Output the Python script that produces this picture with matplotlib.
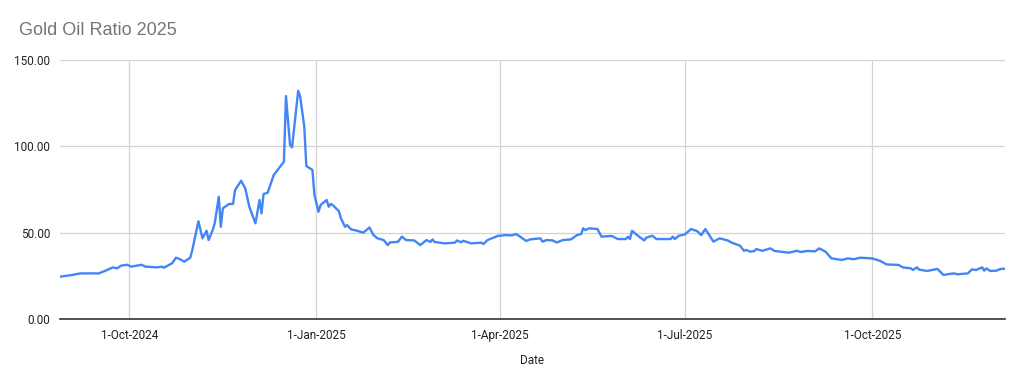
import matplotlib.pyplot as plt
import matplotlib.dates as mdates
import pandas as pd

plt.rcParams['font.family'] = ['Roboto', 'DejaVu Sans']

# Gold / oil ratio
dates = [
    '2024-08-28', '2024-09-03', '2024-09-07', '2024-09-16', '2024-09-19', '2024-09-23',
    '2024-09-25', '2024-09-27', '2024-09-30', '2024-10-02', '2024-10-07', '2024-10-09',
    '2024-10-15', '2024-10-17', '2024-10-18', '2024-10-22', '2024-10-24', '2024-10-26',
    '2024-10-28', '2024-10-31', '2024-11-01', '2024-11-04', '2024-11-06', '2024-11-08',
    '2024-11-09', '2024-11-11', '2024-11-12', '2024-11-14', '2024-11-15', '2024-11-16',
    '2024-11-19', '2024-11-21', '2024-11-22', '2024-11-25', '2024-11-27', '2024-11-29',
    '2024-12-02', '2024-12-04', '2024-12-05', '2024-12-06', '2024-12-08', '2024-12-11',
    '2024-12-16', '2024-12-17', '2024-12-19', '2024-12-20', '2024-12-23', '2024-12-24',
    '2024-12-26', '2024-12-27', '2024-12-30', '2024-12-31', '2025-01-02', '2025-01-03',
    '2025-01-06', '2025-01-07', '2025-01-08', '2025-01-09', '2025-01-12', '2025-01-13',
    '2025-01-15', '2025-01-16', '2025-01-18', '2025-01-21', '2025-01-24', '2025-01-27',
    '2025-01-29', '2025-01-31', '2025-02-03', '2025-02-05', '2025-02-06', '2025-02-10',
    '2025-02-12', '2025-02-14', '2025-02-18', '2025-02-21', '2025-02-24', '2025-02-26',
    '2025-02-27', '2025-02-28', '2025-03-05', '2025-03-10', '2025-03-11', '2025-03-13',
    '2025-03-14', '2025-03-18', '2025-03-23', '2025-03-24', '2025-03-26', '2025-03-31',
    '2025-04-04', '2025-04-07', '2025-04-09', '2025-04-11', '2025-04-14', '2025-04-16',
    '2025-04-21', '2025-04-22', '2025-04-24', '2025-04-27', '2025-04-29', '2025-05-02',
    '2025-05-06', '2025-05-09', '2025-05-11', '2025-05-12', '2025-05-13', '2025-05-15',
    '2025-05-19', '2025-05-21', '2025-05-26', '2025-05-29', '2025-06-02', '2025-06-03',
    '2025-06-04', '2025-06-05', '2025-06-08', '2025-06-11', '2025-06-12', '2025-06-15',
    '2025-06-17', '2025-06-24', '2025-06-25', '2025-06-26', '2025-06-28', '2025-07-01',
    '2025-07-04', '2025-07-07', '2025-07-09', '2025-07-11', '2025-07-15', '2025-07-18',
    '2025-07-22', '2025-07-24', '2025-07-28', '2025-07-30', '2025-07-31', '2025-08-02',
    '2025-08-04', '2025-08-05', '2025-08-08', '2025-08-12', '2025-08-14', '2025-08-21',
    '2025-08-25', '2025-08-27', '2025-08-30', '2025-09-03', '2025-09-05', '2025-09-08',
    '2025-09-11', '2025-09-16', '2025-09-19', '2025-09-22', '2025-09-25', '2025-10-01',
    '2025-10-05', '2025-10-08', '2025-10-14', '2025-10-16', '2025-10-20', '2025-10-21',
    '2025-10-23', '2025-10-24', '2025-10-28', '2025-11-02', '2025-11-05', '2025-11-08',
    '2025-11-10', '2025-11-12', '2025-11-17', '2025-11-19', '2025-11-21', '2025-11-24',
    '2025-11-25', '2025-11-26', '2025-11-28', '2025-12-01', '2025-12-03', '2025-12-05',
]
ratio = [
    24.5, 25.5, 26.4, 26.4, 27.8, 29.9,
    29.3, 30.9, 31.4, 30.3, 31.4, 30.3,
    29.9, 30.3, 29.7, 32.2, 35.5, 34.6,
    33.2, 35.5, 40.0, 56.6, 46.7, 51.1,
    45.7, 51.5, 55.4, 70.8, 53.4, 64.1,
    66.6, 66.6, 74.7, 80.1, 75.6, 65.0,
    55.4, 68.9, 61.2, 72.4, 73.1, 83.4,
    91.1, 129.1, 100.8, 99.4, 132.2, 128.7,
    111.3, 88.6, 86.3, 71.8, 62.1, 66.0,
    68.9, 65.0, 66.6, 66.0, 62.4, 58.3,
    53.4, 54.4, 51.9, 51.1, 50.0, 53.0,
    48.6, 46.7, 45.7, 42.8, 44.3, 44.7,
    47.7, 45.7, 45.5, 42.8, 45.7, 44.6,
    46.1, 44.6, 43.8, 44.2, 45.5, 44.4,
    45.3, 43.8, 44.2, 43.4, 45.7, 48.1,
    48.6, 48.4, 49.2, 47.7, 45.2, 46.1,
    46.7, 44.8, 45.7, 45.5, 44.3, 45.7,
    46.1, 48.6, 49.2, 52.5, 51.5, 52.5,
    52.1, 47.7, 48.1, 46.3, 46.3, 47.7,
    46.3, 51.1, 48.1, 45.5, 47.1, 48.2,
    46.3, 46.3, 47.7, 46.3, 48.2, 49.0,
    52.1, 50.9, 48.6, 52.1, 44.8, 46.7,
    45.5, 44.2, 42.5, 39.5, 40.0, 39.0,
    39.3, 40.5, 39.5, 40.9, 39.4, 38.4,
    39.5, 38.8, 39.4, 39.2, 40.9, 39.0,
    35.1, 34.2, 35.1, 34.6, 35.5, 35.1,
    33.6, 31.6, 31.3, 29.9, 29.3, 28.4,
    29.9, 28.6, 27.8, 29.0, 25.5, 26.1,
    26.4, 25.9, 26.4, 28.7, 28.4, 29.9,
    28.0, 29.3, 27.8, 28.0, 29.0, 29.1,
]

x = pd.to_datetime(dates)
tick_dates = pd.to_datetime(['2024-10-01', '2025-01-01', '2025-04-01', '2025-07-01', '2025-10-01'])

fig = plt.figure(figsize=(10.24, 3.86), dpi=100)
ax = fig.add_axes([0.0586, 0.1736, 0.9224, 0.671])

ax.plot(x, ratio, color='#4285F4', linewidth=1.7, zorder=3)

ax.set_xlim(x[0], x[-1])
ax.set_ylim(0, 150)
ax.set_yticks([0, 50, 100, 150])
ax.set_yticklabels(['0.00', '50.00', '100.00', '150.00'])
ax.set_xticks(tick_dates)
ax.xaxis.set_major_formatter(mdates.DateFormatter('%-d-%b-%Y'))

ax.grid(True, color='#d3d3d3', linewidth=0.9, zorder=0)
for s in ['top', 'right', 'left']:
    ax.spines[s].set_visible(False)
ax.spines['bottom'].set_color('#333333')
ax.spines['bottom'].set_linewidth(1.2)
ax.spines['bottom'].set_zorder(4)
ax.tick_params(length=0, labelsize=8.5, colors='#222222')
ax.tick_params(axis='y', pad=7)
ax.tick_params(axis='x', pad=7)

ax.set_xlabel('Date', fontsize=8.5, color='#222222', labelpad=9)
fig.text(0.0186, 0.92, 'Gold Oil Ratio 2025', fontsize=13, color='#757575',
         ha='left', va='center', family=['Liberation Sans', 'DejaVu Sans'])

fig.savefig('out.png', dpi=100)
